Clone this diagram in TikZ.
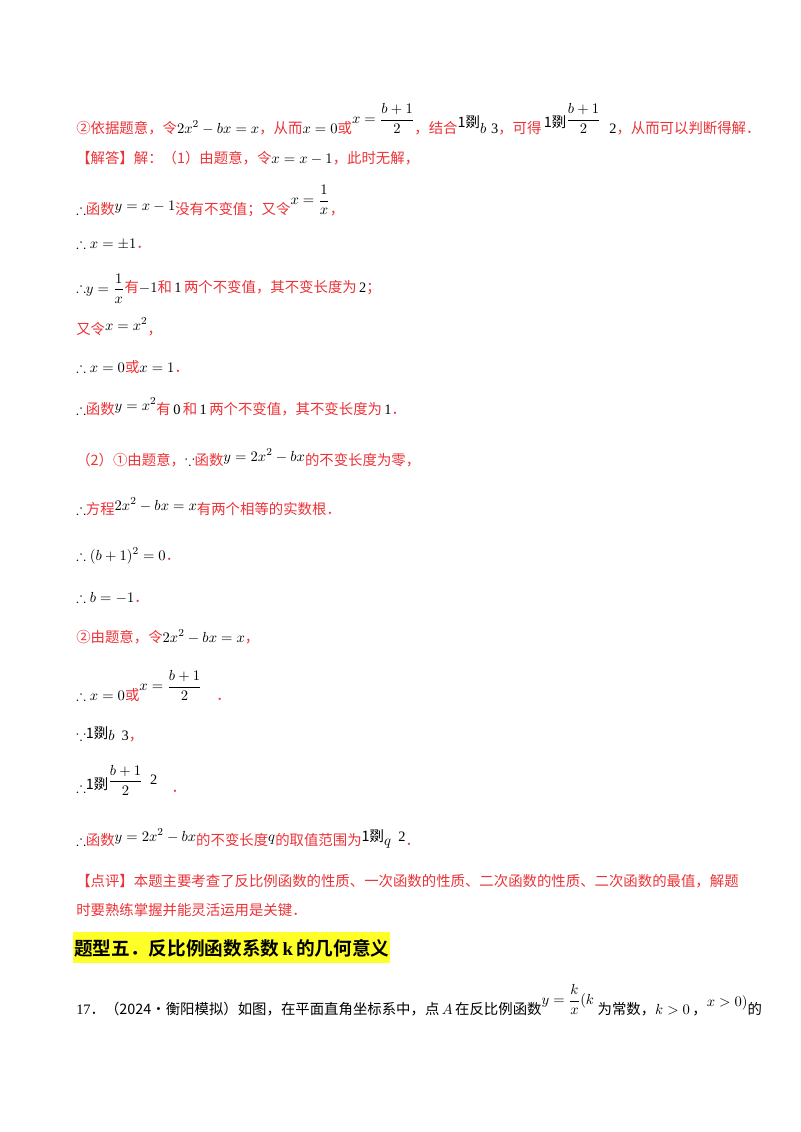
\documentclass[tikz,border=0pt]{standalone}
\usepackage{amsmath,amssymb}
\usepackage{fontspec}
\setmainfont{Liberation Serif}
\newfontfamily\cjk{Noto Sans CJK SC}
\newfontfamily\cjkb{Noto Sans CJK SC Bold}
\definecolor{rd}{RGB}{235,50,55}
\definecolor{hl}{RGB}{255,255,40}
\newcommand\R[1]{\textcolor{rd}{\cjk #1}}
\newcommand\up[2][5pt]{\raisebox{#1}{$\displaystyle #2$}}
\begin{document}
\begin{tikzpicture}[x=0.75pt,y=-0.75pt,
  ln/.style={anchor=base west,inner sep=0pt,font=\fontsize{10.8}{12}\selectfont}]
\useasboundingbox (0,0) rectangle (800,1132);
\node[ln] (l1) at (76,133) {\R{②依据题意，令}$2x^2-bx=x$\R{，从而}$x=0$\R{或}\up[7pt]{x=\frac{b+1}{2}}\R{，结合}\raisebox{4pt}{\cjk 1剟}$b$\,\,3\R{，可得}\,\raisebox{4pt}{\cjk 1剟}\up[7pt]{\frac{b+1}{2}}\,\, 2\R{，从而可以判断得解．}};
\node[ln] (l2) at (76,163) {\R{【解答】解：（1）由题意，令}$x=x-1$\R{，此时无解，}};
\node[ln] (l3) at (76,214) {$\therefore$\R{函数}\raisebox{3pt}{$y=x-1$}\R{没有不变值；又令}\up[7pt]{x=\frac{1}{x}}\R{，}};
\node[ln] (l4) at (76,248) {$\therefore x=\pm1$\R{．}};
\node[ln] (l5) at (76,292) {$\therefore$\raisebox{-1pt}{$\displaystyle y=\frac{1}{x}$}\R{有}$-1$\R{和}\,1\,\R{两个不变值，其不变长度为}\,2\R{；}};
\node[ln] (l6) at (76,334) {\R{又令}\raisebox{3pt}{$x=x^2$}\R{，}};
\node[ln] (l7) at (76,372) {$\therefore x=0$\R{或}$x=1$\R{．}};
\node[ln] (l8) at (76,414) {$\therefore$\R{函数}\raisebox{3pt}{$y=x^2$}\R{有}\,0\,\R{和}\,1\,\R{两个不变值，其不变长度为}\,1\R{．}};
\node[ln] (l9) at (76,465) {\R{（2）①由题意，}$\because$\R{函数}\raisebox{3pt}{$y=2x^2-bx$}\R{的不变长度为零，}};
\node[ln] (l10) at (76,514) {$\therefore$\R{方程}\raisebox{3pt}{$2x^2-bx=x$}\R{有两个相等的实数根．}};
\node[ln] (l11) at (76,560) {$\therefore (b+1)^2=0$\R{．}};
\node[ln] (l12) at (76,602) {$\therefore b=-1$\R{．}};
\node[ln] (l13) at (76,642) {\R{②由题意，令}$2x^2-bx=x$\R{，}};
\node[ln] (l14) at (76,700) {$\therefore x=0$\R{或}\up[7pt]{x=\frac{b+1}{2}}\quad\R{．}};
\node[ln] (l15) at (76,740) {$\because$\raisebox{1pt}{\cjk 1剟}$b$\,\,\,3\R{，}};
\node[ln] (l16) at (76,792) {$\therefore$\raisebox{2pt}{\cjk 1剟}\up[5pt]{\frac{b+1}{2}}\,\,\,\raisebox{6pt}{2}\quad\R{．}};
\node[ln] (l17) at (76,845) {$\therefore$\R{函数}\raisebox{3pt}{$y=2x^2-bx$}\R{的不变长度}\raisebox{3pt}{$q$}\R{的取值范围为}\raisebox{3pt}{\cjk 1剟}$q$\,\,\,\raisebox{3pt}{2}\R{．}};
\node[ln] (l18) at (76,886) {\R{【点评】本题主要考查了反比例函数的性质、一次函数的性质、二次函数的性质、二次函数的最值，解题}};
\node[ln] (l19) at (76,915) {\R{时要熟练掌握并能灵活运用是关键．}};
\fill[hl] (73,932) rectangle (390,963);
\node[anchor=base west,inner sep=0pt,font=\fontsize{14}{16}\selectfont] (h) at (74,955) {\cjkb 题型五．反比例函数系数\,{\rmfamily\bfseries k}\,的几何意义};
\node[ln] (l20) at (76,1014) {17{\cjk ．（2024•衡阳模拟）如图，在平面直角坐标系中，点}\,$A$\,{\cjk 在反比例函数}\up[7pt]{y=\frac{k}{x}(k}\ {\cjk 为常数，}$k>0$\,{\cjk ，}\raisebox{6pt}{$x>0)$}{\cjk 的}};
\end{tikzpicture}
\end{document}
